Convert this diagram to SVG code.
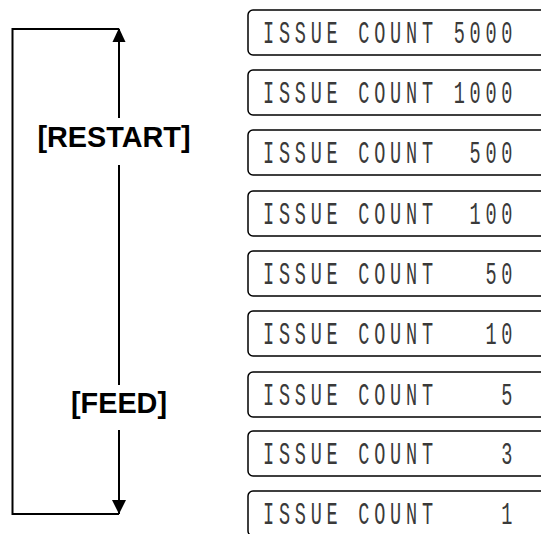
<svg xmlns="http://www.w3.org/2000/svg" width="541" height="534" viewBox="0 0 541 534">
<style>
.box{fill:#fff;stroke:#000;stroke-width:1.5}
.lcd{font-family:"Liberation Mono",monospace;font-size:26.5px;fill:#3a3a3a;letter-spacing:6.8px;white-space:pre}
.lbl{font-family:"Liberation Sans",Arial,sans-serif;font-weight:bold;font-size:28.8px;fill:#000;text-anchor:middle}
.ln{fill:none;stroke:#000;stroke-width:2}
</style>
<defs>
<marker id="ah" viewBox="0 0 14 14" refX="14" refY="7" markerWidth="14" markerHeight="14" markerUnits="userSpaceOnUse" orient="auto">
<path d="M0,0 L14,7 L0,14 Z" fill="#000"/>
</marker>
</defs>
<rect width="541" height="534" fill="#fff"/>
<g id="connectors">
<path class="ln" d="M119,118 V29"/>
<path class="ln" d="M119,29 H12.5 V514 H119"/>
<path class="ln" d="M119,165 V385"/>
<path class="ln" d="M119,430 V514" marker-end="url(#ah)"/>
<path d="M112.5,42 L119,28 L125.5,42 Z" fill="#000"/>
</g>
<g id="label-restart"><text class="lbl" x="114" y="147">[RESTART]</text></g>
<g id="label-feed"><text class="lbl" x="119" y="413">[FEED]</text></g>
<g id="box-5000"><rect class="box" x="248" y="10" width="320" height="45" rx="5"/><text class="lcd" transform="translate(263,43.3) scale(0.7,1.15)" xml:space="preserve">ISSUE COUNT 5000</text></g>
<g id="box-1000"><rect class="box" x="248" y="70" width="320" height="45" rx="5"/><text class="lcd" transform="translate(263,103.3) scale(0.7,1.15)" xml:space="preserve">ISSUE COUNT 1000</text></g>
<g id="box-500"><rect class="box" x="248" y="130" width="320" height="45" rx="5"/><text class="lcd" transform="translate(263,163.3) scale(0.7,1.15)" xml:space="preserve">ISSUE COUNT  500</text></g>
<g id="box-100"><rect class="box" x="248" y="191" width="320" height="45" rx="5"/><text class="lcd" transform="translate(263,224.3) scale(0.7,1.15)" xml:space="preserve">ISSUE COUNT  100</text></g>
<g id="box-50"><rect class="box" x="248" y="251" width="320" height="45" rx="5"/><text class="lcd" transform="translate(263,284.3) scale(0.7,1.15)" xml:space="preserve">ISSUE COUNT   50</text></g>
<g id="box-10"><rect class="box" x="248" y="311" width="320" height="45" rx="5"/><text class="lcd" transform="translate(263,344.3) scale(0.7,1.15)" xml:space="preserve">ISSUE COUNT   10</text></g>
<g id="box-5"><rect class="box" x="248" y="372" width="320" height="45" rx="5"/><text class="lcd" transform="translate(263,405.3) scale(0.7,1.15)" xml:space="preserve">ISSUE COUNT    5</text></g>
<g id="box-3"><rect class="box" x="248" y="431" width="320" height="45" rx="5"/><text class="lcd" transform="translate(263,464.3) scale(0.7,1.15)" xml:space="preserve">ISSUE COUNT    3</text></g>
<g id="box-1"><rect class="box" x="248" y="491" width="320" height="45" rx="5"/><text class="lcd" transform="translate(263,524.3) scale(0.7,1.15)" xml:space="preserve">ISSUE COUNT    1</text></g>
</svg>
